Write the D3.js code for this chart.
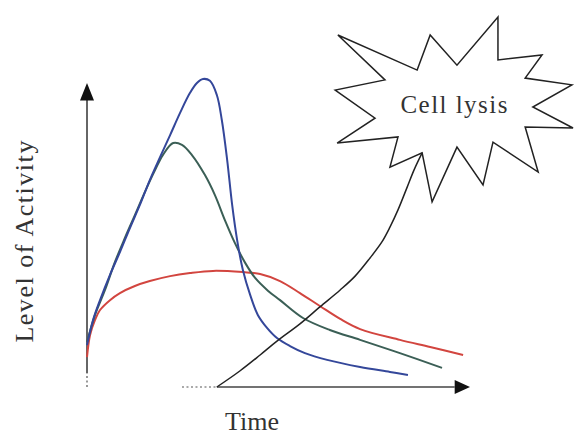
<!DOCTYPE html>
<html><head><meta charset="utf-8">
<script src="https://cdn.jsdelivr.net/npm/d3@7/dist/d3.min.js"></script>
<style>html,body{margin:0;padding:0;background:#fff;}svg{display:block;}</style>
</head><body>
<script>
// Data (time 0-100, activity 0-100)
const blueT = [0,1.6,3.4,6.0,8.6,11.2,13.8,16.4,19.1,21.7,24.3,26.9,28.7,30.3,32.1,33.9,35.2,36.6,37.9,39.2,40.7,42.6,44.6,47.0,49.6,53.0,56.9,62.7,71.3,79.1,83.8];
const blueV = [13.6,21.8,28.2,36.4,43.8,51.6,59.1,67.2,74.7,81.8,89.0,95.5,98.7,100,99.4,94.8,86.7,73.7,59.1,47.7,38.0,29.9,23.4,19.2,15.9,13.3,11.0,8.8,6.5,4.9,3.9];
const greenT = [0,2.1,4.7,7.3,9.9,12.5,15.1,17.8,19.8,22.5,24.8,27.4,30.8,33.4,36.0,38.6,41.3,43.9,47.3,50.4,56.4,63.4,71.3,81.7,92.7];
const greenV = [14.6,23.4,31.5,40.6,48.4,55.8,63.3,70.5,75.3,79.2,78.6,75.3,68.8,62.3,54.2,46.8,40.3,35.4,31.2,28.2,22.4,18.5,15.3,11.0,6.2];
const redT = [0,0.8,2.1,3.4,6.0,8.6,12.5,16.4,21.7,26.9,32.9,40.7,45.2,50.4,55.6,60.8,66.1,71.3,81.7,89.6,98.2];
const redV = [9.7,16.9,21.8,25.0,28.2,30.5,32.8,34.4,36.0,37.0,37.7,37.3,36.7,34.4,30.5,26.3,22.1,18.8,15.3,13.0,10.4];
const lysisT = [33.9,39.9,45.2,49.6,55.6,60.8,66.1,70.0,73.9,77.0,79.1,81.2,83.6,85.4,87.5];
const lysisV = [0,5.2,10.4,14.9,20.5,26.0,31.5,36.0,41.9,47.1,51.9,57.5,64.9,70.5,76.0];
const burstT = [65.5,86.2,89.6,96.6,107.3,107.3,118.8,114.4,126.6,116.4,126.9,114.4,117.8,106.0,103.4,96.6,90.1,87.5,79.1,81.2,65.3,75.2,64.8,77.8];
const burstV = [114.3,102.9,114.3,104.5,120.1,106.2,107.8,100.3,98.1,90.9,84.1,84.4,69.8,79.5,65.6,77.9,60.1,76.0,71.4,81.2,79.2,87.3,96.4,99.7];
const xLabel = "Time";
const yLabel = "Level of Activity";
const burstLabel = "Cell lysis";

const W = 575, H = 435;
const svg = d3.select("body").append("svg").attr("width", W).attr("height", H);

const x = d3.scaleLinear().domain([0, 100]).range([87, 470]);
const y = d3.scaleLinear().domain([0, 100]).range([387, 79]);

const zip = (T, V) => T.map((t, i) => [t, V[i]]);
const line = d3.line().x(d => x(d[0])).y(d => y(d[1])).curve(d3.curveCatmullRom.alpha(0.5));

// axes
const xSolid = lysisT[0];
svg.append("line").attr("x1", x(24.8)).attr("x2", x(xSolid)).attr("y1", y(0)).attr("y2", y(0))
  .attr("stroke", "#555").attr("stroke-width", 1.2).attr("stroke-dasharray", "2,2.5");
svg.append("line").attr("x1", x(xSolid)).attr("x2", x(96)).attr("y1", y(0)).attr("y2", y(0))
  .attr("stroke", "#444").attr("stroke-width", 1.5);
svg.append("path").attr("d", `M${x(100)},${y(0)} L${x(96)},${y(0)-7} L${x(96)},${y(0)+7} Z`).attr("fill", "#111");

svg.append("line").attr("x1", x(0)).attr("x2", x(0)).attr("y1", y(0)).attr("y2", y(4.5))
  .attr("stroke", "#555").attr("stroke-width", 1.2).attr("stroke-dasharray", "2,2.5");
svg.append("line").attr("x1", x(0)).attr("x2", x(0)).attr("y1", y(4.5)).attr("y2", y(93.5))
  .attr("stroke", "#333").attr("stroke-width", 1.5);
svg.append("path").attr("d", `M${x(0)},${y(98.7)} L${x(0)-7},${y(93)} L${x(0)+7},${y(93)} Z`).attr("fill", "#111");

// curves
svg.append("path").attr("d", line(zip(redT, redV))).attr("fill", "none").attr("stroke", "#d2453f").attr("stroke-width", 2);
svg.append("path").attr("d", line(zip(greenT, greenV))).attr("fill", "none").attr("stroke", "#3b5f56").attr("stroke-width", 2);
svg.append("path").attr("d", line(zip(blueT, blueV))).attr("fill", "none").attr("stroke", "#34479a").attr("stroke-width", 2);
svg.append("path").attr("d", line(zip(lysisT, lysisV))).attr("fill", "none").attr("stroke", "#222").attr("stroke-width", 1.5);

// starburst
const burst = d3.line().x(d => x(d[0])).y(d => y(d[1])).curve(d3.curveLinearClosed);
svg.append("path").attr("d", burst(zip(burstT, burstV))).attr("fill", "none")
  .attr("stroke", "#222").attr("stroke-width", 1.5).attr("stroke-linejoin", "miter");
svg.append("text").attr("x", x(95.8)).attr("y", y(89.0)).attr("text-anchor", "middle")
  .attr("font-family", "Liberation Serif, Times New Roman, serif").attr("font-size", 25)
  .attr("fill", "#333").attr("textLength", 107).attr("lengthAdjust", "spacing").text(burstLabel);

// axis labels
svg.append("text").attr("x", x(43.1)).attr("y", 430).attr("text-anchor", "middle")
  .attr("font-family", "Liberation Serif, Times New Roman, serif").attr("font-size", 26)
  .attr("fill", "#333").text(xLabel);
svg.append("text").attr("transform", `translate(33,${y(47.2)}) rotate(-90)`).attr("text-anchor", "middle")
  .attr("font-family", "Liberation Serif, Times New Roman, serif").attr("font-size", 26)
  .attr("fill", "#333").attr("textLength", 202).attr("lengthAdjust", "spacing").text(yLabel);
</script>
</body></html>
